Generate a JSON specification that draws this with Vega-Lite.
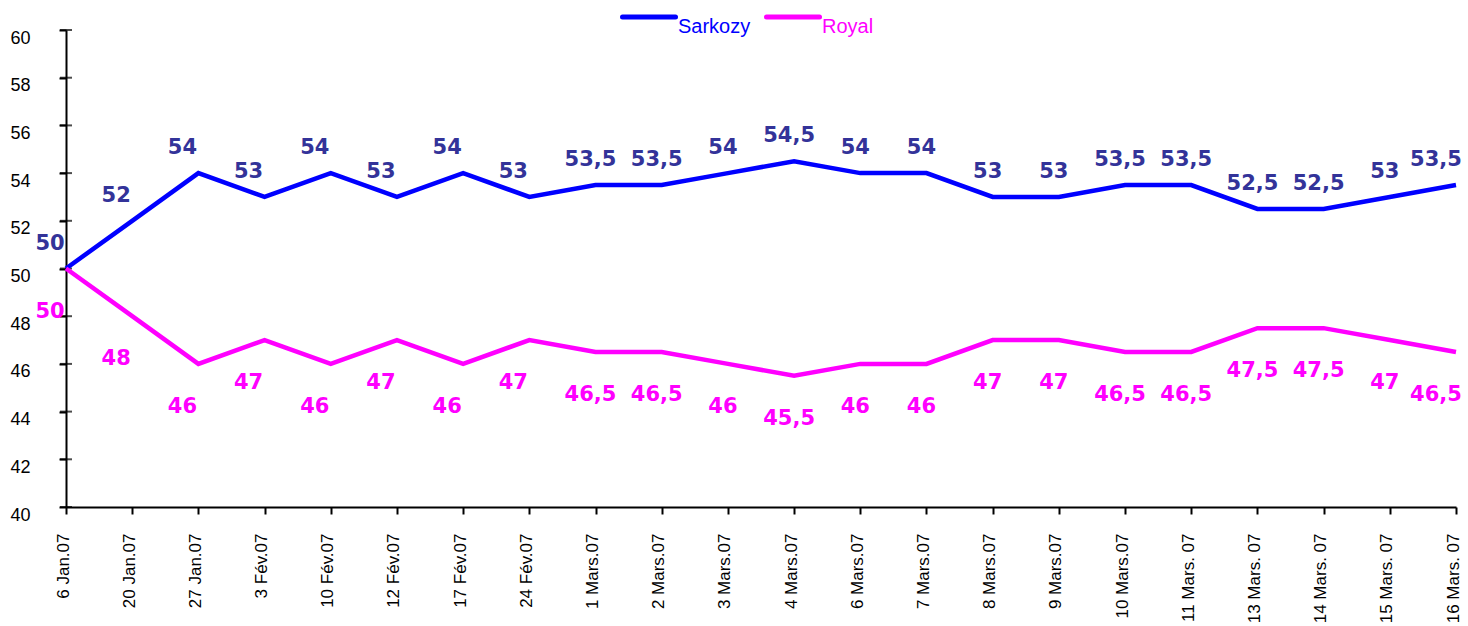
{
  "$schema": "https://vega.github.io/schema/vega-lite/v6.json",
  "width": 1390,
  "height": 477,
  "autosize": {"type": "none"},
  "padding": {"left": 66, "top": 30, "right": 12, "bottom": 119},
  "background": "white",
  "config": {
    "view": {"stroke": null},
    "font": "Liberation Sans",
    "locale": {"number": {"decimal": ",", "thousands": " ", "grouping": [3], "currency": ["", " €"]}}
  },
  "data": {
    "values": [
      {"date": "6 Jan.07", "series": "Sarkozy", "value": 50},
      {"date": "20 Jan.07", "series": "Sarkozy", "value": 52},
      {"date": "27 Jan.07", "series": "Sarkozy", "value": 54},
      {"date": "3 Fév.07", "series": "Sarkozy", "value": 53},
      {"date": "10 Fév.07", "series": "Sarkozy", "value": 54},
      {"date": "12 Fév.07", "series": "Sarkozy", "value": 53},
      {"date": "17 Fév.07", "series": "Sarkozy", "value": 54},
      {"date": "24 Fév.07", "series": "Sarkozy", "value": 53},
      {"date": "1 Mars.07", "series": "Sarkozy", "value": 53.5},
      {"date": "2 Mars.07", "series": "Sarkozy", "value": 53.5},
      {"date": "3 Mars.07", "series": "Sarkozy", "value": 54},
      {"date": "4 Mars.07", "series": "Sarkozy", "value": 54.5},
      {"date": "6 Mars.07", "series": "Sarkozy", "value": 54},
      {"date": "7 Mars.07", "series": "Sarkozy", "value": 54},
      {"date": "8 Mars.07", "series": "Sarkozy", "value": 53},
      {"date": "9 Mars.07", "series": "Sarkozy", "value": 53},
      {"date": "10 Mars.07", "series": "Sarkozy", "value": 53.5},
      {"date": "11 Mars. 07", "series": "Sarkozy", "value": 53.5},
      {"date": "13 Mars. 07", "series": "Sarkozy", "value": 52.5},
      {"date": "14 Mars. 07", "series": "Sarkozy", "value": 52.5},
      {"date": "15 Mars. 07", "series": "Sarkozy", "value": 53},
      {"date": "16 Mars. 07", "series": "Sarkozy", "value": 53.5},
      {"date": "6 Jan.07", "series": "Royal", "value": 50},
      {"date": "20 Jan.07", "series": "Royal", "value": 48},
      {"date": "27 Jan.07", "series": "Royal", "value": 46},
      {"date": "3 Fév.07", "series": "Royal", "value": 47},
      {"date": "10 Fév.07", "series": "Royal", "value": 46},
      {"date": "12 Fév.07", "series": "Royal", "value": 47},
      {"date": "17 Fév.07", "series": "Royal", "value": 46},
      {"date": "24 Fév.07", "series": "Royal", "value": 47},
      {"date": "1 Mars.07", "series": "Royal", "value": 46.5},
      {"date": "2 Mars.07", "series": "Royal", "value": 46.5},
      {"date": "3 Mars.07", "series": "Royal", "value": 46},
      {"date": "4 Mars.07", "series": "Royal", "value": 45.5},
      {"date": "6 Mars.07", "series": "Royal", "value": 46},
      {"date": "7 Mars.07", "series": "Royal", "value": 46},
      {"date": "8 Mars.07", "series": "Royal", "value": 47},
      {"date": "9 Mars.07", "series": "Royal", "value": 47},
      {"date": "10 Mars.07", "series": "Royal", "value": 46.5},
      {"date": "11 Mars. 07", "series": "Royal", "value": 46.5},
      {"date": "13 Mars. 07", "series": "Royal", "value": 47.5},
      {"date": "14 Mars. 07", "series": "Royal", "value": 47.5},
      {"date": "15 Mars. 07", "series": "Royal", "value": 47},
      {"date": "16 Mars. 07", "series": "Royal", "value": 46.5}
    ]
  },
  "encoding": {
    "x": {
      "field": "date",
      "type": "ordinal",
      "sort": ["6 Jan.07", "20 Jan.07", "27 Jan.07", "3 Fév.07", "10 Fév.07", "12 Fév.07", "17 Fév.07", "24 Fév.07", "1 Mars.07", "2 Mars.07", "3 Mars.07", "4 Mars.07", "6 Mars.07", "7 Mars.07", "8 Mars.07", "9 Mars.07", "10 Mars.07", "11 Mars. 07", "13 Mars. 07", "14 Mars. 07", "15 Mars. 07", "16 Mars. 07"],
      "scale": {"type": "point", "padding": 0},
      "axis": {
        "title": null,
        "labelAngle": 270,
        "labelAlign": "right",
        "labelBaseline": "middle",
        "labelFont": "Liberation Sans",
        "labelFontSize": 17,
        "labelColor": "#000000",
        "labelPadding": 19,
        "labelOffset": -3,
        "labelOverlap": false,
        "tickSize": 7,
        "tickColor": "#000000",
        "tickWidth": 2,
        "domainColor": "#000000",
        "domainWidth": 2,
        "grid": false
      }
    },
    "y": {
      "field": "value",
      "type": "quantitative",
      "scale": {"domain": [40, 60], "nice": false, "zero": false},
      "axis": {
        "title": null,
        "values": [40, 42, 44, 46, 48, 50, 52, 54, 56, 58, 60],
        "labelFont": "Liberation Sans",
        "labelFontSize": 18,
        "labelColor": "#000000",
        "labelPadding": 29,
        "labelBaseline": "middle",
        "labelOffset": 8,
        "tickSize": 7,
        "tickColor": "#000000",
        "tickWidth": 2,
        "domainColor": "#000000",
        "domainWidth": 2,
        "grid": false
      }
    }
  },
  "layer": [
    {
      "data": {"values": [{"value": 40}, {"value": 42}, {"value": 44}, {"value": 46}, {"value": 48}, {"value": 50}, {"value": 52}, {"value": 54}, {"value": 56}, {"value": 58}, {"value": 60}]},
      "mark": {"type": "tick", "color": "#000000", "thickness": 2, "size": 12, "orient": "horizontal"},
      "encoding": {"x": {"datum": "6 Jan.07", "type": "ordinal"}}
    },
    {
      "mark": {"type": "line", "strokeWidth": 4.5},
      "encoding": {
        "color": {
          "field": "series",
          "type": "nominal",
          "scale": {"domain": ["Sarkozy", "Royal"], "range": ["#0000ff", "#ff00ff"]},
          "legend": {
            "title": null,
            "orient": "none",
            "legendX": 554,
            "legendY": -42,
            "direction": "horizontal",
            "symbolType": "stroke",
            "symbolSize": 2809,
            "symbolStrokeWidth": 5,
            "labelFont": "Liberation Sans",
            "labelFontSize": 20,
            "labelOffset": 0,
            "labelBaseline": "top",
            "columnPadding": 5,
            "padding": 0,
            "encode": {
              "labels": {"update": {"fill": {"signal": "datum.label === 'Sarkozy' ? '#0000ff' : '#ff00ff'"}}},
              "symbols": {"update": {"strokeCap": {"value": "round"}}}
            }
          }
        }
      }
    },
    {
      "transform": [{"filter": {"and": [{"field": "series", "equal": "Sarkozy"}, {"field": "date", "oneOf": ["6 Jan.07", "20 Jan.07", "27 Jan.07", "3 Fév.07", "10 Fév.07", "12 Fév.07", "17 Fév.07", "24 Fév.07"]}]}}],
      "mark": {"type": "text", "font": "DejaVu Sans", "fontWeight": "bold", "fontSize": 21, "align": "center", "baseline": "middle", "dx": -16, "dy": -25, "color": "#333399"},
      "encoding": {"text": {"field": "value", "type": "quantitative", "format": ".1~f"}}
    },
    {
      "transform": [{"filter": {"and": [{"field": "series", "equal": "Sarkozy"}, {"not": {"field": "date", "oneOf": ["6 Jan.07", "20 Jan.07", "27 Jan.07", "3 Fév.07", "10 Fév.07", "12 Fév.07", "17 Fév.07", "24 Fév.07", "16 Mars. 07"]}}]}}],
      "mark": {"type": "text", "font": "DejaVu Sans", "fontWeight": "bold", "fontSize": 21, "align": "center", "baseline": "middle", "dx": -5, "dy": -25, "color": "#333399"},
      "encoding": {"text": {"field": "value", "type": "quantitative", "format": ".1~f"}}
    },
    {
      "transform": [{"filter": {"and": [{"field": "series", "equal": "Sarkozy"}, {"field": "date", "equal": "16 Mars. 07"}]}}],
      "mark": {"type": "text", "font": "DejaVu Sans", "fontWeight": "bold", "fontSize": 21, "align": "center", "baseline": "middle", "dx": -20, "dy": -25, "color": "#333399"},
      "encoding": {"text": {"field": "value", "type": "quantitative", "format": ".1~f"}}
    },
    {
      "transform": [{"filter": {"and": [{"field": "series", "equal": "Royal"}, {"field": "date", "oneOf": ["6 Jan.07", "20 Jan.07", "27 Jan.07", "3 Fév.07", "10 Fév.07", "12 Fév.07", "17 Fév.07", "24 Fév.07"]}]}}],
      "mark": {"type": "text", "font": "DejaVu Sans", "fontWeight": "bold", "fontSize": 21, "align": "center", "baseline": "middle", "dx": -16, "dy": 43, "color": "#ff00ff"},
      "encoding": {"text": {"field": "value", "type": "quantitative", "format": ".1~f"}}
    },
    {
      "transform": [{"filter": {"and": [{"field": "series", "equal": "Royal"}, {"not": {"field": "date", "oneOf": ["6 Jan.07", "20 Jan.07", "27 Jan.07", "3 Fév.07", "10 Fév.07", "12 Fév.07", "17 Fév.07", "24 Fév.07", "16 Mars. 07"]}}]}}],
      "mark": {"type": "text", "font": "DejaVu Sans", "fontWeight": "bold", "fontSize": 21, "align": "center", "baseline": "middle", "dx": -5, "dy": 43, "color": "#ff00ff"},
      "encoding": {"text": {"field": "value", "type": "quantitative", "format": ".1~f"}}
    },
    {
      "transform": [{"filter": {"and": [{"field": "series", "equal": "Royal"}, {"field": "date", "equal": "16 Mars. 07"}]}}],
      "mark": {"type": "text", "font": "DejaVu Sans", "fontWeight": "bold", "fontSize": 21, "align": "center", "baseline": "middle", "dx": -20, "dy": 43, "color": "#ff00ff"},
      "encoding": {"text": {"field": "value", "type": "quantitative", "format": ".1~f"}}
    }
  ]
}
